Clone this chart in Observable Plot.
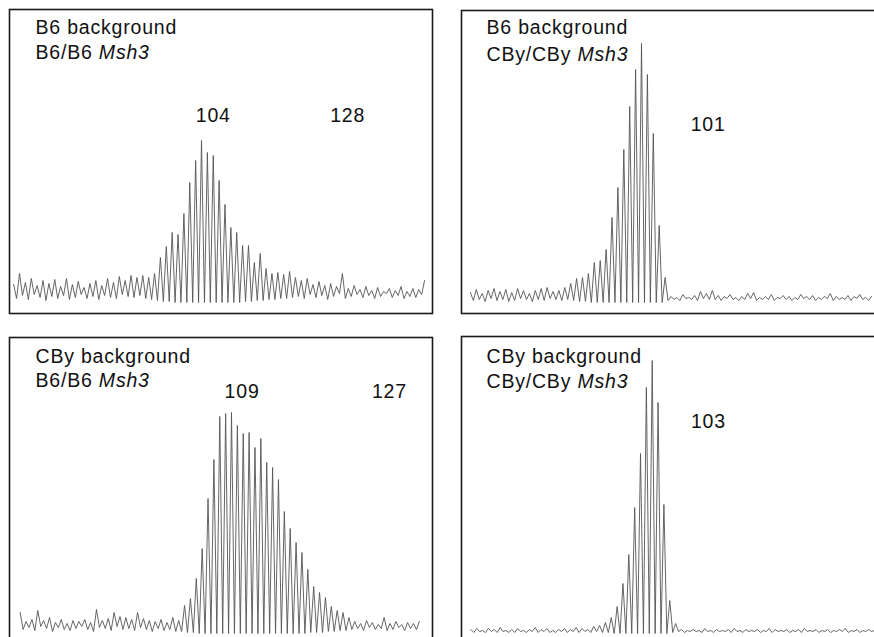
<!DOCTYPE html>
<html><head><meta charset="utf-8">
<script src="https://cdn.jsdelivr.net/npm/d3@7"></script>
<script src="https://cdn.jsdelivr.net/npm/@observablehq/plot@0.6"></script>
<style>
html,body{margin:0;padding:0;background:#fff;overflow:hidden;}
#wrap{position:relative;width:874px;height:637px;overflow:hidden;background:#fff;}
.panel{position:absolute;}
</style></head><body><div id="wrap"></div>
<script>
// ---------- Data (peak index relative to modal peak, signal height) ----------
// Panel 1: B6 background, B6/B6 Msh3
const p1Title = ["B6 background", "B6/B6 Msh3"];
const p1Start = -32;
const p1Peaks = [18,29,20,24,17,22,19,23,16,24,
  18,21,15,19,22,17,24,20,26,22,
  27,25,27,25,29,45,56,70,68,89,
  120,142,162,150,147,122,98,75,70,57,
  57,40,49,34,29,30,28,31,25,22,
  24,18,21,17,19,16,29,14,17,13,
  16,12,15,11,14,12,16,11,14,13,22];
const p1Valleys = [4,7,3,8,5,2,6,4,7,3,5,8,4,6,3,7,5,4,8,6,5,7,
  4,3,2,1,1,0,0,0,0,0,0,0,0,0,0,0,0,1,1,2,2,3,3,4,4,5,
  6,4,8,5,7,3,6,9,4,6,8,5,7,4,6,9,5,7,4,6,5,8];
const p1LabelText = ["104", "128"];
const p1LabelX = [2.0, 24.9];
const p1LabelY = [181, 181];

// Panel 2: B6 background, CBy/CBy Msh3
const p2Title = ["B6 background", "CBy/CBy Msh3"];
const p2Start = -29;
const p2Peaks = [10,13,9,12,14,11,13,10,14,12,
  9,12,14,15,11,12,15,19,24,25,
  29,40,42,53,85,115,153,196,233,259,
  228,169,77,25,
  6,5,8,5,7,11,9,12,7,6,8,5,6,9,10,5,6,8,5,7,6,5,8,6,7,5,6,9,6,5,7,6,8,5,6];
const p2Valleys = [2,3,1,4,2,3,1,2,4,3,1,3,2,4,3,2,3,2,
  1,1,0,0,0,0,0,0,0,0,0,0,0,0,0,2,
  3,2,4,3,2,4,3,3,2,4,3,2,3,4,2,3,3,2,4,3,2,3,4,3,2,3,4,2,3,3,2,4,3,2];
const p2LabelText = ["101"];
const p2LabelX = [11.3];
const p2LabelY = [172];

// Panel 3: CBy background, B6/B6 Msh3
const p3Title = ["CBy background", "B6/B6 Msh3"];
const p3Start = -36;
const p3Peaks = [21,12,14,23,13,16,11,14,10,13,
  12,14,11,24,13,15,21,17,16,14,
  21,15,13,12,14,11,16,13,28,35,
  55,85,135,174,217,220,221,208,200,201,
  186,195,171,166,154,122,105,91,81,64,
  47,41,36,27,23,21,16,12,10,13,
  11,9,16,10,12,9,11,10,12];
const p3Valleys = [4,6,3,7,5,2,6,4,3,5,7,4,2,6,5,3,7,4,5,3,6,4,2,5,3,4,2,
  2,1,1,0,0,0,0,0,0,0,0,0,0,0,0,0,0,0,0,0,0,0,1,1,1,2,2,3,3,
  4,5,3,6,4,5,3,4,6,3,5,4];
const p3LabelText = ["109", "127"];
const p3LabelX = [1.8, 26.9];
const p3LabelY = [236, 236];

// Panel 4: CBy background, CBy/CBy Msh3
const p4Title = ["CBy background", "CBy/CBy Msh3"];
const p4Start = -31;
const p4Peaks = [4,5,3,5,4,6,3,4,5,3,4,6,4,5,3,4,5,4,6,5,4,7,
  8,11,16,27,50,79,126,180,246,273,231,129,33,10,
  4,3,4,3,5,3,4,3,4,5,3,4,3,4,3,5,4,3,4,3,4,5,3,4,3,4,3,4,5,3,4,3,4,3];
const p4Valleys = [1,2,1,2,1,2,1,1,2,1,2,1,2,1,1,2,1,2,1,2,1,2,
  1,1,0,0,0,0,0,0,0,0,0,0,1,
  2,1,2,2,1,2,1,2,2,1,2,1,2,2,1,2,1,2,2,1,2,1,2,2,1,2,1,2,2,1,2,1,2,2];
const p4LabelText = ["103"];
const p4LabelX = [9.6];
const p4LabelY = [206];

// ---------- Helpers ----------
function trace(start, peaks, valleys) {
  const pts = [];
  peaks.forEach((h, k) => {
    pts.push({x: start + k, y: h});
    if (k < valleys.length) pts.push({x: start + k + 0.5, y: valleys[k]});
  });
  return pts;
}
function labels(texts, xs, ys) {
  return texts.map((t, i) => ({text: t, x: xs[i], y: ys[i]}));
}
const FONT = "'Liberation Sans', Arial, Helvetica, sans-serif";

const panels = [
  {left: 0, top: 0, width: 440, height: 320, m: [9, 8, 9, 7], xd: [-32.71, 39.35], yd: [-11, 293],
   title: p1Title, tdx: 26, tdy: [24, 49], start: p1Start, peaks: p1Peaks, valleys: p1Valleys,
   lab: labels(p1LabelText, p1LabelX, p1LabelY)},
  {left: 440, top: 0, width: 440, height: 320, m: [21, 2, 10, 7], xd: [-30.51, 40.17], yd: [-11, 292],
   title: p2Title, tdx: 25, tdy: [23, 50], start: p2Start, peaks: p2Peaks, valleys: p2Valleys,
   lab: labels(p2LabelText, p2LabelX, p2LabelY)},
  {left: 0, top: 320, width: 440, height: 330, m: [9, 8, 17, 5], xd: [-37.82, 34.24], yd: [-12, 296],
   title: p3Title, tdx: 26, tdy: [25, 49], start: p3Start, peaks: p3Peaks, valleys: p3Valleys,
   lab: labels(p3LabelText, p3LabelX, p3LabelY)},
  {left: 440, top: 320, width: 440, height: 330, m: [21, 2, 16, 5], xd: [-32.6, 38.68], yd: [-12, 297],
   title: p4Title, tdx: 25, tdy: [26, 51], start: p4Start, peaks: p4Peaks, valleys: p4Valleys,
   lab: labels(p4LabelText, p4LabelX, p4LabelY)}
];

const wrap = document.getElementById("wrap");
for (const p of panels) {
  const txt = {fontFamily: FONT, fontSize: 19.5, fill: "#111"};
  const chart = Plot.plot({
    width: p.width, height: p.height,
    marginLeft: p.m[0], marginRight: p.m[1], marginTop: p.m[2], marginBottom: p.m[3],
    x: {domain: p.xd, axis: null},
    y: {domain: p.yd, axis: null},
    style: {fontFamily: FONT, fontSize: "19.5px", letterSpacing: "0.8px", background: "transparent", overflow: "visible"},
    marks: [
      Plot.line(trace(p.start, p.peaks, p.valleys), {x: "x", y: "y", stroke: "#555", strokeWidth: 0.9, clip: true}),
      Plot.text(p.lab, {x: "x", y: "y", text: "text", textAnchor: "middle", lineAnchor: "bottom", ...txt}),
      Plot.text([p.title[0]], {text: d => d, frameAnchor: "top-left", dx: p.tdx, dy: p.tdy[0], textAnchor: "start", lineAnchor: "bottom", ...txt}),
      Plot.text([p.title[1]], {text: d => d, frameAnchor: "top-left", dx: p.tdx, dy: p.tdy[1], textAnchor: "start", lineAnchor: "bottom", ...txt}),
      Plot.frame({stroke: "#1a1a1a", strokeWidth: 1.6})
    ]
  });
  // italicize gene name
  chart.querySelectorAll("text").forEach(t => {
    const s = t.textContent;
    if (s.endsWith(" Msh3") && t.children.length === 0) {
      t.textContent = s.slice(0, -4);
      const ts = document.createElementNS("http://www.w3.org/2000/svg", "tspan");
      ts.setAttribute("font-style", "italic");
      ts.textContent = "Msh3";
      t.appendChild(ts);
    }
  });
  const div = document.createElement("div");
  div.className = "panel";
  div.style.left = p.left + "px";
  div.style.top = p.top + "px";
  div.style.width = p.width + "px";
  div.style.height = p.height + "px";
  div.appendChild(chart);
  wrap.appendChild(div);
}
</script>
</body></html>
